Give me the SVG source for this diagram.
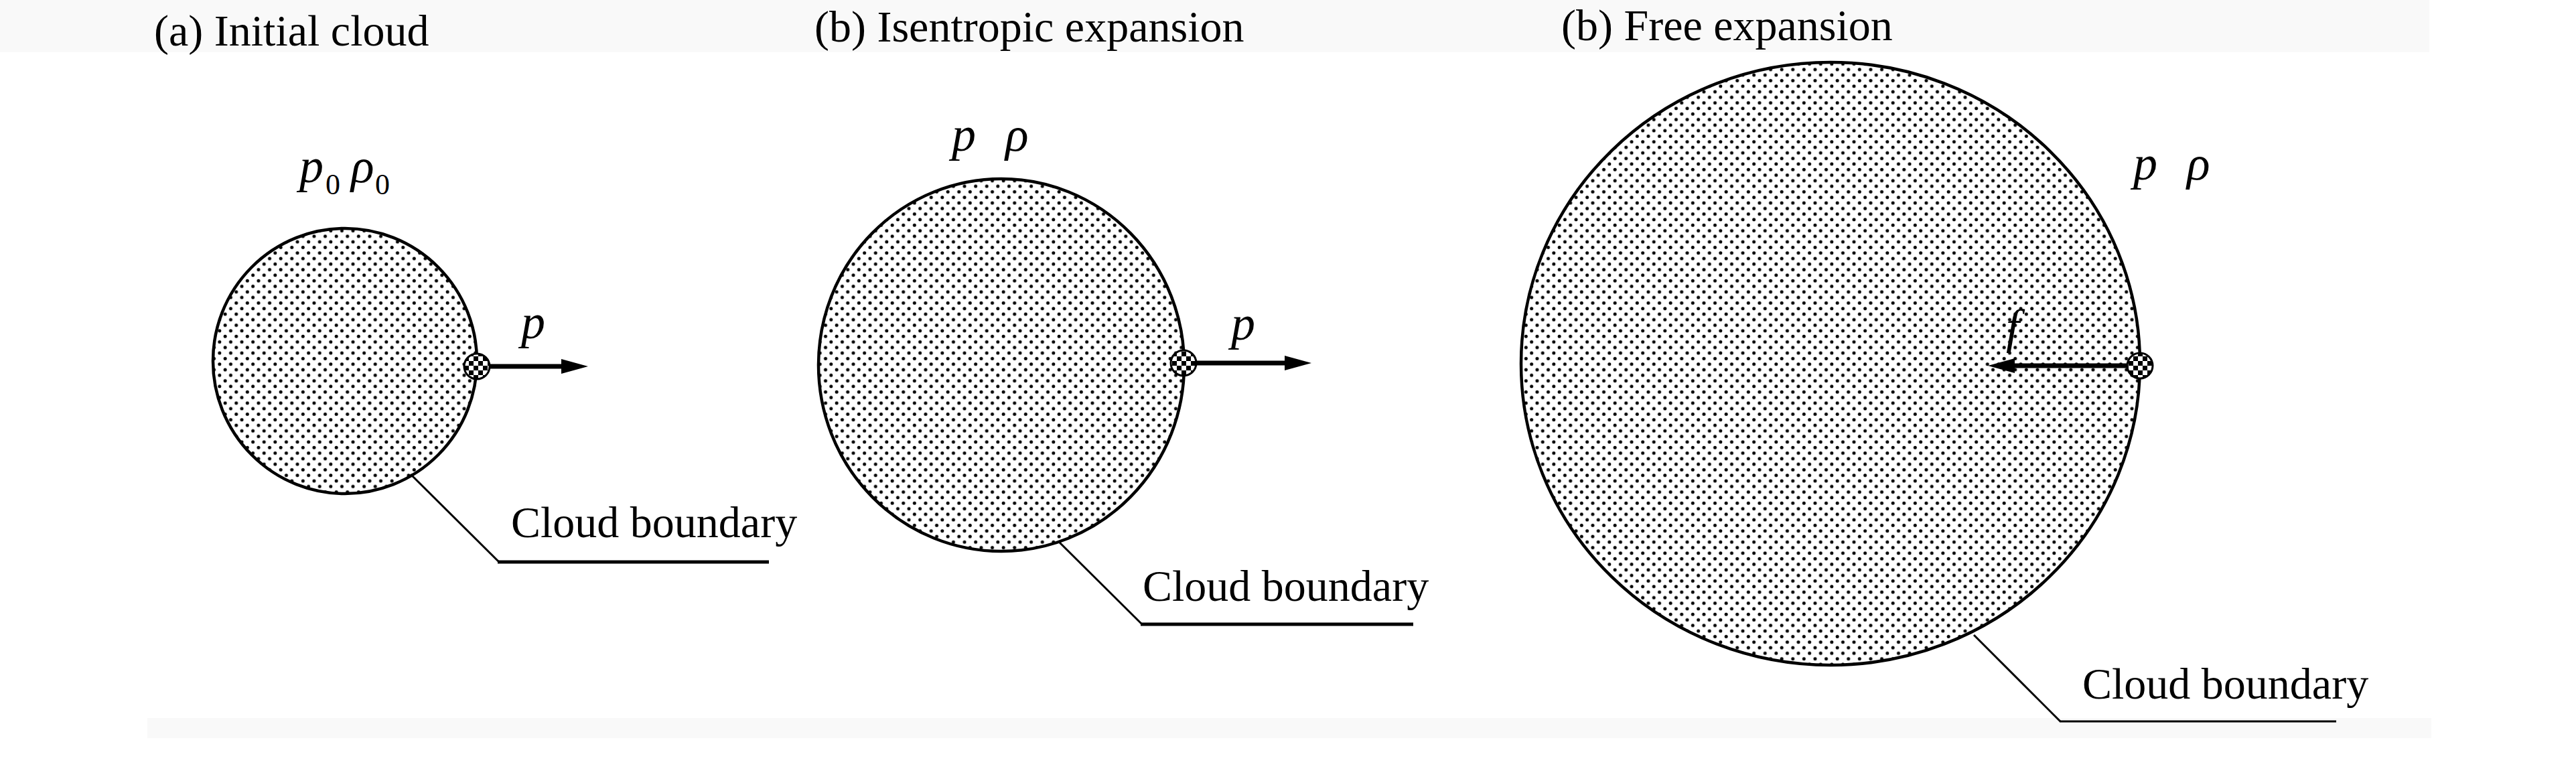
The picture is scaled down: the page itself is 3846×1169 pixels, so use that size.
<svg xmlns="http://www.w3.org/2000/svg" width="3846" height="1169" viewBox="0 0 3846 1169">
<style>
 .t{font-family:"Liberation Serif","Times New Roman",serif;font-size:66px;fill:#000}
 .m{font-family:"Liberation Serif","Times New Roman",serif;font-style:italic;font-size:72px;fill:#000}
 .s{font-family:"Liberation Serif","Times New Roman",serif;font-size:44px;fill:#000}
 .cloud{fill:url(#dots);stroke:#000;stroke-width:4.5}
 .probe{fill:url(#checker);stroke:#000;stroke-width:3}
 .lead{fill:none;stroke:#000;stroke-width:3}
 .shelf{fill:none;stroke:#000;stroke-width:5}
 .shelf-thin{fill:none;stroke:#000;stroke-width:3}
 .shaft{fill:none;stroke:#000;stroke-width:7}
 .band{fill:#f9f9f9}
</style>
<defs>
 <pattern id="dots" patternUnits="userSpaceOnUse" width="16.6" height="16.6">
  <circle cx="4.15" cy="4.15" r="2.5"/>
  <circle cx="12.45" cy="12.45" r="2.5"/>
 </pattern>
 <pattern id="checker" patternUnits="userSpaceOnUse" width="14" height="14">
  <rect width="14" height="14" fill="#000"/>
  <rect width="7" height="7" fill="#fff"/>
  <rect x="7" y="7" width="7" height="7" fill="#fff"/>
 </pattern>
 <marker id="head" viewBox="0 0 40 22" refX="20" refY="11" markerWidth="40" markerHeight="22" markerUnits="userSpaceOnUse" orient="auto">
  <path d="M0,0 L40,11 L0,22 z" fill="#000"/>
 </marker>
</defs>
<rect width="3846" height="1169" fill="#fff"/>
<rect class="band" x="0" y="0" width="3627" height="78"/>
<rect class="band" x="220" y="1072" width="3410" height="30"/>

<g id="titles">
 <text class="t" x="230" y="68">(a) Initial cloud</text>
 <text class="t" x="1216" y="62">(b) Isentropic expansion</text>
 <text class="t" x="2331" y="60">(b) Free expansion</text>
</g>

<g id="node-a">
 <ellipse class="cloud" cx="515" cy="539" rx="197" ry="198"/>
 <text class="m" x="447" y="272">p</text>
 <text class="s" x="486" y="290">0</text>
 <text class="m" x="524" y="272">ρ</text>
 <text class="s" x="560" y="290">0</text>
 <text class="m" x="778" y="505">p</text>
 <text class="t" x="763" y="802">Cloud boundary</text>
</g>

<g id="node-b">
 <ellipse class="cloud" cx="1495" cy="545" rx="273" ry="278"/>
 <text class="m" x="1421" y="225">p</text>
 <text class="m" x="1501" y="225">ρ</text>
 <text class="m" x="1838" y="507">p</text>
 <text class="t" x="1706" y="897">Cloud boundary</text>
</g>

<g id="node-c">
 <ellipse class="cloud" cx="2733" cy="543" rx="462" ry="450"/>
 <text class="m" x="3185" y="268">p</text>
 <text class="m" x="3265" y="268">ρ</text>
 <text class="m" x="2995" y="512">f</text>
 <text class="t" x="3109" y="1043">Cloud boundary</text>
</g>

<g id="connectors">
 <line class="shaft" x1="730" y1="547" x2="858" y2="547" marker-end="url(#head)"/>
 <line class="shaft" x1="1785" y1="542" x2="1938" y2="542" marker-end="url(#head)"/>
 <line class="shaft" x1="3177" y1="546" x2="2988" y2="546" marker-end="url(#head)"/>
 <polyline class="lead" points="613,708 745,839"/>
 <line class="shelf" x1="743" y1="839" x2="1148" y2="839"/>
 <polyline class="lead" points="1581,809 1705,932"/>
 <line class="shelf" x1="1703" y1="932" x2="2110" y2="932"/>
 <polyline class="lead" points="2947,948 3076,1077"/>
 <line class="shelf-thin" x1="3075" y1="1077" x2="3488" y2="1077"/>
</g>

<g id="probes">
 <circle class="probe" cx="712" cy="547" r="19"/>
 <circle class="probe" cx="1767" cy="542" r="19"/>
 <circle class="probe" cx="3195" cy="546" r="19"/>
</g>
</svg>
